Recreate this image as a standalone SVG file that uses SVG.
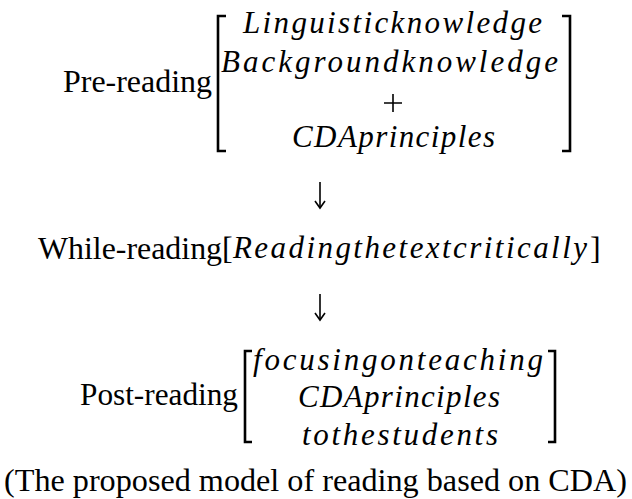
<svg xmlns="http://www.w3.org/2000/svg" width="632" height="499" viewBox="0 0 632 499">
<style>
.lab{font-family:"Liberation Serif","Times New Roman",serif;font-size:32px;fill:#000}
.m{font-family:"Liberation Serif","Times New Roman",serif;font-style:italic;font-size:31px;fill:#000}
.br{fill:none;stroke:#000;stroke-width:2.6;stroke-linecap:butt}
.arr{fill:none;stroke:#000;stroke-width:1.6}
</style>
<defs>
<marker id="head" markerWidth="12" markerHeight="12" refX="10" refY="6" orient="auto" markerUnits="userSpaceOnUse">
<path d="M3,1 L10,6 L3,11" fill="none" stroke="#000" stroke-width="1.6"/>
</marker>
</defs>
<rect width="632" height="499" fill="#fff"/>
<g id="pre-reading">
<text class="lab" x="63" y="92" textLength="149" lengthAdjust="spacingAndGlyphs">Pre-reading</text>
<path class="br" d="M226,16 H218 V151 H226"/>
<path class="br" d="M562,16 H570 V151 H562"/>
<text class="m" x="243" y="33" textLength="299" lengthAdjust="spacing">Linguisticknowledge</text>
<text class="m" x="221" y="72" textLength="337" lengthAdjust="spacing">Backgroundknowledge</text>
<path d="M393,94 V112 M384,103 H402" stroke="#000" stroke-width="1.6" fill="none"/>
<text class="m" x="292" y="147" textLength="203" lengthAdjust="spacing">CDAprinciples</text>
</g>
<g id="while-reading">
<text class="lab" x="38" y="259" textLength="184" lengthAdjust="spacingAndGlyphs">While-reading</text>
<text class="lab" x="222" y="259">[</text>
<text class="m" x="233" y="258" textLength="354" lengthAdjust="spacing">Readingthetextcritically</text>
<text class="lab" x="590" y="259">]</text>
</g>
<g id="post-reading">
<text class="lab" x="80" y="405" textLength="158" lengthAdjust="spacingAndGlyphs">Post-reading</text>
<path class="br" d="M252,351 H245 V442 H252"/>
<path class="br" d="M548,351 H555 V442 H548"/>
<text class="m" x="253" y="370" textLength="290" lengthAdjust="spacing">focusingonteaching</text>
<text class="m" x="298" y="407" textLength="202" lengthAdjust="spacing">CDAprinciples</text>
<text class="m" x="302" y="445" textLength="196" lengthAdjust="spacing">tothestudents</text>
</g>
<g id="caption">
<text class="lab" x="4" y="491" textLength="623" lengthAdjust="spacingAndGlyphs">(The proposed model of reading based on CDA)</text>
</g>
<g id="connectors">
<path class="arr" d="M320,182 V208" marker-end="url(#head)"/>
<path class="arr" d="M320,294 V320" marker-end="url(#head)"/>
</g>
</svg>
